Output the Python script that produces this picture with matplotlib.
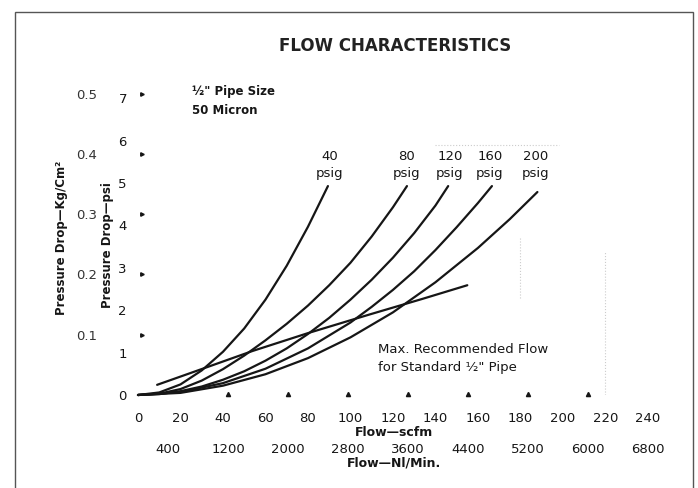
import numpy as np
import matplotlib
matplotlib.use("Agg")
import matplotlib.pyplot as plt
from matplotlib.patches import Rectangle

# Flow (scfm) vs pressure drop (psi) for each inlet pressure
flow_40 = [0, 10, 20, 30, 40, 50, 60, 70, 80, 89.4]
drop_40 = [0, 0.06, 0.25, 0.58, 1.02, 1.57, 2.25, 3.05, 3.97, 4.93]

flow_80 = [0, 10, 20, 30, 40, 50, 60, 70, 80, 90, 100, 110, 120, 126.6]
drop_80 = [0, 0.03, 0.14, 0.34, 0.61, 0.93, 1.29, 1.68, 2.11, 2.59, 3.12, 3.74, 4.43, 4.93]

flow_120 = [0, 10, 20, 30, 40, 50, 60, 70, 80, 90, 100, 110, 120, 130, 140, 146]
drop_120 = [0, 0.02, 0.09, 0.2, 0.36, 0.56, 0.81, 1.10, 1.44, 1.82, 2.25, 2.72,
            3.24, 3.82, 4.47, 4.93]

flow_160 = [0, 20, 40, 60, 80, 100, 110, 120, 130, 140, 150, 160, 166.6]
drop_160 = [0, 0.07, 0.28, 0.62, 1.10, 1.71, 2.08, 2.48, 2.92, 3.42, 3.96, 4.53, 4.93]

flow_200 = [0, 20, 40, 60, 80, 100, 120, 140, 160, 175, 188]
drop_200 = [0, 0.05, 0.22, 0.49, 0.87, 1.36, 1.95, 2.66, 3.47, 4.15, 4.79]

# max recommended flow line
flow_max = [9, 31, 54, 80, 109, 134, 155]
drop_max = [0.24, 0.63, 1.04, 1.46, 1.9, 2.27, 2.59]

curve_labels = ["40", "80", "120", "160", "200"]
label_x = [90.4, 126.6, 146.8, 165.6, 187.3]

scfm_ticks = list(range(0, 241, 20))
psi_ticks = [0, 1, 2, 3, 4, 5, 6, 7]
kg_ticks = [0.1, 0.2, 0.3, 0.4, 0.5]
nl_ticks = [400, 1200, 2000, 2800, 3600, 4400, 5200, 6000, 6800]
nl_marks = [1200, 2000, 2800, 3600, 4400, 5200, 6000]

SCFM_TO_NL = 28.317
PSI_TO_KG = 0.070307

ink = "#161616"
plt.rcParams["font.family"] = ["DejaVu Sans"]

fig = plt.figure(figsize=(6.98, 4.88), dpi=100)
ax = fig.add_axes([138 / 698, 1 - 395 / 488, 512 / 698, 303 / 488])
ax.set_xlim(0, 241)
ax.set_ylim(0, 7.15)
for s in ax.spines.values():
    s.set_visible(False)

for fx, dy in [(flow_40, drop_40), (flow_80, drop_80), (flow_120, drop_120),
               (flow_160, drop_160), (flow_200, drop_200)]:
    ax.plot(fx, dy, color=ink, lw=1.6, solid_capstyle="round",
            solid_joinstyle="round", clip_on=False)
ax.plot(flow_max, drop_max, color=ink, lw=1.6, solid_capstyle="round",
        solid_joinstyle="round")

# faint dotted scan lines
ax.plot([180, 180], [2.3, 3.7], color="#cccccc", lw=0.8, ls=":")
ax.plot([220, 220], [0.0, 3.4], color="#cccccc", lw=0.8, ls=":")
ax.plot([140, 198], [5.9, 5.9], color="#cccccc", lw=0.8, ls=":")

for lab, lx in zip(curve_labels, label_x):
    ax.text(lx, 5.62, lab, ha="center", va="center", fontsize=9.5, color=ink)
    ax.text(lx, 5.22, "psig", ha="center", va="center", fontsize=9.5, color=ink)

ax.text(25.4, 7.15, "½\" Pipe Size", fontsize=8.5, fontweight="bold",
        va="center", color=ink, clip_on=False)
ax.text(25.4, 6.72, "50 Micron", fontsize=8.5, fontweight="bold",
        va="center", color=ink)
ax.text(113, 1.08, "Max. Recommended Flow", fontsize=9.5, va="center", color=ink)
ax.text(113, 0.66, "for Standard ½\" Pipe", fontsize=9.5, va="center", color=ink)

# scfm axis
ax.set_xticks(scfm_ticks)
ax.set_xticklabels([str(t) for t in scfm_ticks])
ax.tick_params(axis="x", length=0, pad=12, labelsize=9.5, labelcolor=ink)
ax.set_xlabel("Flow—scfm", fontsize=9, fontweight="bold", labelpad=1, color=ink)

# psi axis
ax.set_yticks(psi_ticks)
ax.set_yticklabels([str(t) for t in psi_ticks])
ax.tick_params(axis="y", length=0, pad=8, labelsize=9.5, labelcolor=ink)

# markers for the metric scales
ax.plot([n / SCFM_TO_NL for n in nl_marks], [0.02] * len(nl_marks), "^",
        color=ink, ms=3, clip_on=False)
ax.plot([1.8] * len(kg_ticks), [k / PSI_TO_KG for k in kg_ticks], ">",
        color=ink, ms=2.5, clip_on=False)

# Nl/min axis
sec_x = ax.secondary_xaxis(-0.1386, functions=(lambda q: q * SCFM_TO_NL,
                                                lambda n: n / SCFM_TO_NL))
sec_x.set_xticks(nl_ticks)
sec_x.set_xticklabels([str(t) for t in nl_ticks])
sec_x.tick_params(length=0, pad=4, labelsize=9.5, labelcolor=ink)
sec_x.spines["bottom"].set_visible(False)
sec_x.set_xlabel("Flow—Nl/Min.", fontsize=9, fontweight="bold", labelpad=1, color=ink)

# Kg/cm2 axis
sec_y = ax.secondary_yaxis(-0.0684, functions=(lambda p: p * PSI_TO_KG,
                                                lambda k: k / PSI_TO_KG))
sec_y.set_yticks(kg_ticks)
sec_y.set_yticklabels([str(t) for t in kg_ticks])
sec_y.tick_params(length=0, pad=4, labelsize=9.5, labelcolor="#333333")
sec_y.spines["left"].set_visible(False)

fig.text(108 / 698, 1 - 245 / 488, "Pressure Drop—psi", rotation=90,
         ha="center", va="center", fontsize=8.5, fontweight="bold", color=ink)
fig.text(62 / 698, 1 - 238 / 488, "Pressure Drop—Kg/Cm²", rotation=90,
         ha="center", va="center", fontsize=8.5, fontweight="bold", color=ink)

fig.text(395 / 698, 1 - 46 / 488, "FLOW CHARACTERISTICS", ha="center",
         va="center", fontsize=12, fontweight="bold", color="#222222")

fig.patches.append(Rectangle((15 / 698, -0.1), 678 / 698, 1.1 - 12 / 488,
                             transform=fig.transFigure, fill=False,
                             edgecolor="#555555", lw=1))

fig.savefig("out.png", dpi=100)
